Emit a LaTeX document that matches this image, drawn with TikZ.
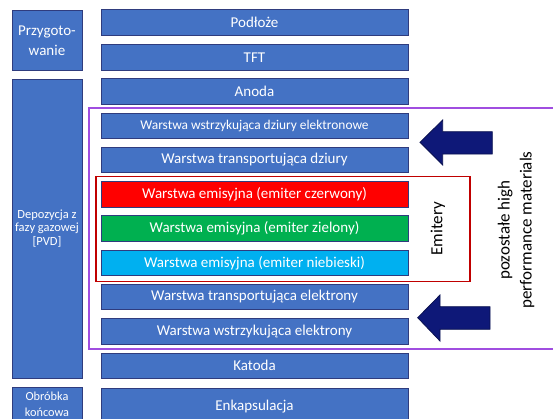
\documentclass[tikz,border=0pt]{standalone}
\usepackage{fontspec}
\setmainfont{Carlito}
\definecolor{layerfill}{HTML}{4472C4}
\definecolor{layerline}{HTML}{2F3C7E}
\definecolor{emred}{HTML}{FF0000}
\definecolor{emgreen}{HTML}{00B050}
\definecolor{emblue}{HTML}{00B0F0}
\definecolor{groupred}{HTML}{C00000}
\definecolor{grouppurple}{HTML}{A04EE0}
\definecolor{arrowfill}{HTML}{0E1878}
\definecolor{arrowline}{HTML}{0A1150}
\begin{document}
\begin{tikzpicture}[x=1pt,y=-1pt,
  layer/.style={draw=layerline, line width=1pt, fill=layerfill, text=white,
    minimum width=307pt, minimum height=25.5pt, inner sep=0pt,
    font=\fontsize{15}{18}\selectfont},
  stage/.style={draw=layerline, line width=1pt, fill=layerfill, text=white,
    minimum width=70pt, inner sep=0pt, align=center},
  bigarrow/.style={fill=arrowfill, draw=arrowline, line width=0.8pt},
  sidelabel/.style={rotate=90, align=center, inner sep=0pt, text=black}]
\useasboundingbox (0,0) rectangle (553,418);
\clip (0,0) rectangle (553,418);

% process stages
\node[stage, minimum height=60pt, font=\fontsize{15}{20}\selectfont]
  (prep) at (47,40.5) {Przygoto-\\wanie};
\node[stage, minimum height=299pt, font=\fontsize{12.5}{13.5}\selectfont]
  (pvd) at (47,228.5) {Depozycja z\\fazy gazowej\\{[PVD]}};
\node[stage, minimum height=34pt, font=\fontsize{12.3}{16}\selectfont]
  (post) at (47,404) {Obróbka\\końcowa};

% layer stack
\node[layer] (sub)  at (254.5,22.5) {Podłoże};
\node[layer] (tft)  at (254.5,57.5) {TFT};
\node[layer] (anode) at (254.5,91.5) {Anoda};
\node[layer, font=\fontsize{13.4}{16}\selectfont] (hil) at (254.5,126) {Warstwa wstrzykująca dziury elektronowe};
\node[layer] (htl)  at (254.5,160) {Warstwa transportująca dziury};
\node[layer, fill=emred]   (red)   at (254.5,194.3) {Warstwa emisyjna (emiter czerwony)};
\node[layer, fill=emgreen] (green) at (254.5,228.5) {Warstwa emisyjna (emiter zielony)};
\node[layer, fill=emblue]  (blue)  at (254.5,263)   {Warstwa emisyjna (emiter niebieski)};
\node[layer] (etl)  at (254.5,297)   {Warstwa transportująca elektrony};
\node[layer] (eil)  at (254.5,331.3) {Warstwa wstrzykująca elektrony};
\node[layer] (cath) at (254.5,365.8) {Katoda};
\node[layer, minimum height=37pt] (encap) at (254.5,406.5) {Enkapsulacja};

% group frames
\draw[grouppurple, line width=2pt] (89,108) rectangle (570,349);
\draw[groupred, line width=1.3pt] (96,176.7) rectangle (470,281.7);

% side labels
\node[sidelabel, font=\fontsize{17}{20}\selectfont] (emit) at (438,229) {Emitery};
\node[sidelabel, font=\fontsize{17}{22}\selectfont] (hpm) at (516,230)
  {pozostałe high\\performance materials};

% block arrows
\draw[bigarrow] (420,142.3) -- (442.7,120) -- (442.7,131.7) -- (492.3,131.7)
  -- (492.3,154) -- (442.7,154) -- (442.7,165) -- cycle;
\draw[bigarrow] (417.7,317.7) -- (440,295) -- (440,306.7) -- (490,306.7)
  -- (490,329.3) -- (440,329.3) -- (440,341) -- cycle;
\end{tikzpicture}
\end{document}
